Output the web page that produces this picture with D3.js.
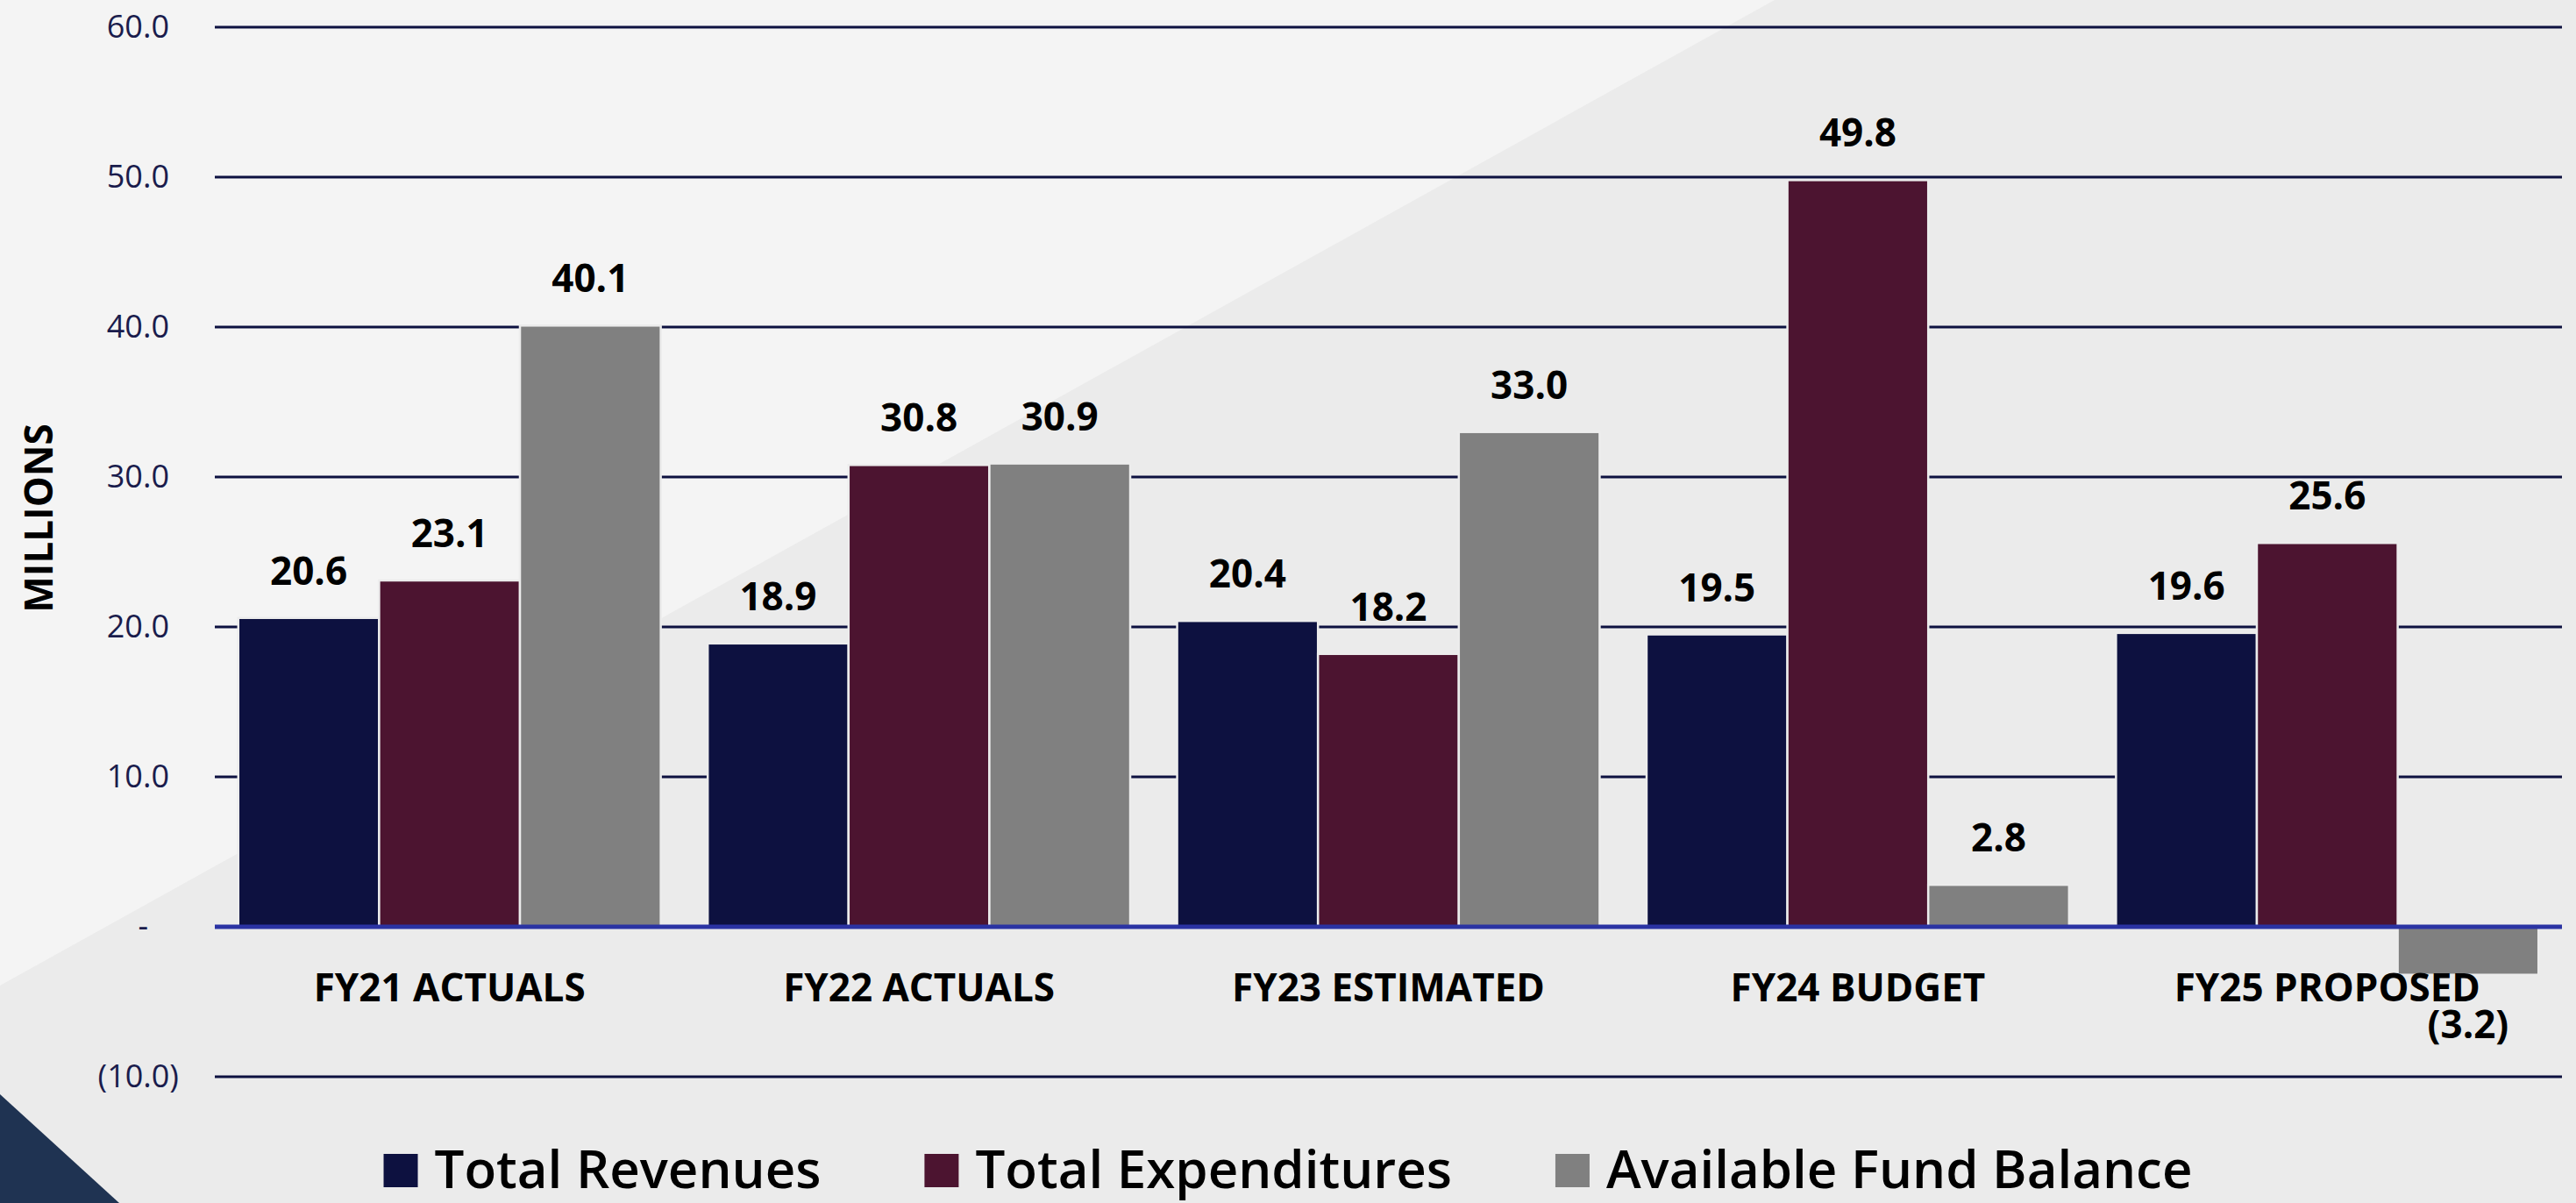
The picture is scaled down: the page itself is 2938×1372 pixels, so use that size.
<!DOCTYPE html>
<html lang="en">
  <head>
    <meta charset="utf-8">
    <script src="https://d3js.org/d3.v7.min.js"></script>
    <style>
      body { margin: 0; background: #ececec; }
      svg { display: block; }
    </style>
  </head>
  <body>
    <svg id="chart"></svg>

    <script type="text/javascript">

     // chart data
     var categories = ["FY21 ACTUALS", "FY22 ACTUALS", "FY23 ESTIMATED", "FY24 BUDGET", "FY25 PROPOSED"];
     var seriesNames = ["Total Revenues", "Total Expenditures", "Available Fund Balance"];
     var revenues = [20.6, 18.9, 20.4, 19.5, 19.6];
     var expenditures = [23.1, 30.8, 18.2, 49.8, 25.6];
     var fundBalance = [40.1, 30.9, 33.0, 2.8, -3.2];
     var yTicks = [-10, 0, 10, 20, 30, 40, 50, 60];
     var colors = ["#0d1140", "#4c1430", "#808080"];

     var width = 2938;
     var height = 1372;

     var svg = d3.select("#chart")
       .attr("width", width)
       .attr("height", height);

     // background with the diagonal split and the corner triangle
     svg.append("rect")
       .attr("width", width)
       .attr("height", height)
       .attr("fill", "#ebebeb");
     svg.append("path")
       .attr("d", "M0,0 L2024,0 L0,1124 Z")
       .attr("fill", "#f4f4f4");
     svg.append("path")
       .attr("d", "M0,1248 L136,1372 L0,1372 Z")
       .attr("fill", "#1f3352");

     var data = categories.map(function(c, i) {
       return {cat: c, values: [revenues[i], expenditures[i], fundBalance[i]]};
     });

     var left = 245, right = 2922;

     var x0 = d3.scaleBand()
       .domain(categories)
       .range([left, right])
       .paddingInner(0.1)
       .paddingOuter(0.05);

     var x1 = d3.scaleBand()
       .domain(d3.range(seriesNames.length))
       .range([0, x0.bandwidth()]);

     var y = d3.scaleLinear()
       .domain([-10, 60])
       .range([1228, 31]);

     // gridlines + tick labels
     var yAxis = d3.axisLeft(y)
       .tickValues(yTicks)
       .tickSize(0)
       .tickPadding(52)
       .tickFormat(function(d) {
         if (d == 0) return "-";
         if (d < 0) return "(" + d3.format(".1f")(-d) + ")";
         return d3.format(".1f")(d);
       });

     var gAxis = svg.append("g")
       .attr("transform", "translate(" + left + ",0)")
       .call(yAxis);
     gAxis.select(".domain").remove();
     gAxis.selectAll("text")
       .attr("font-family", "Open Sans")
       .attr("font-size", 36)
       .attr("fill", "#1a1c4c")
       .attr("dx", function(d) {
         if (d < 0) return 11;
         if (d == 0) return -24;
         return 0;
       });

     svg.append("g")
       .selectAll("line")
       .data(yTicks.filter(function(d) { return d != 0; }))
       .enter()
       .append("line")
       .attr("x1", left)
       .attr("x2", right)
       .attr("y1", function(d) { return y(d); })
       .attr("y2", function(d) { return y(d); })
       .attr("stroke", "#0d1140")
       .attr("stroke-width", 3);

     // bars
     var groups = svg.append("g")
       .selectAll("g")
       .data(data)
       .enter()
       .append("g")
       .attr("transform", function(d) { return "translate(" + x0(d.cat) + ",0)"; });

     groups.selectAll("rect")
       .data(function(d) { return d.values; })
       .enter()
       .append("rect")
       .attr("x", function(d, i) { return x1(i); })
       .attr("y", function(d) { return y(Math.max(0, d)); })
       .attr("width", x1.bandwidth())
       .attr("height", function(d) { return Math.abs(y(d) - y(0)); })
       .attr("fill", function(d, i) { return colors[i]; })
       .attr("stroke", "#ececec")
       .attr("stroke-width", 2.5);

     groups.selectAll("text")
       .data(function(d) { return d.values; })
       .enter()
       .append("text")
       .attr("x", function(d, i) { return x1(i) + x1.bandwidth() / 2; })
       .attr("y", function(d) { return d >= 0 ? y(d) - 38 : y(d) + 72; })
       .attr("text-anchor", "middle")
       .attr("font-family", "Open Sans")
       .attr("font-weight", "bold")
       .attr("font-size", 44)
       .attr("fill", "#000")
       .text(function(d) {
         return d < 0 ? "(" + d3.format(".1f")(-d) + ")" : d3.format(".1f")(d);
       });

     // zero line
     svg.append("line")
       .attr("x1", left)
       .attr("x2", right)
       .attr("y1", y(0))
       .attr("y2", y(0))
       .attr("stroke", "#2a33a3")
       .attr("stroke-width", 5);

     // category labels
     svg.append("g")
       .selectAll("text")
       .data(categories)
       .enter()
       .append("text")
       .attr("x", function(d) { return x0(d) + x0.bandwidth() / 2; })
       .attr("y", 1142)
       .attr("text-anchor", "middle")
       .attr("font-family", "Open Sans")
       .attr("font-weight", "bold")
       .attr("font-size", 44)
       .attr("fill", "#000")
       .text(function(d) { return d; });

     // axis title
     svg.append("text")
       .attr("transform", "translate(60,591) rotate(-90)")
       .attr("text-anchor", "middle")
       .attr("font-family", "Open Sans")
       .attr("font-weight", "bold")
       .attr("font-size", 44)
       .attr("fill", "#000")
       .text("MILLIONS");

     // legend
     var legend = svg.append("g");
     var lx = 0;
     seriesNames.forEach(function(name, i) {
       legend.append("rect")
         .attr("x", lx)
         .attr("y", 1316)
         .attr("width", 39)
         .attr("height", 38)
         .attr("fill", colors[i]);
       var t = legend.append("text")
         .attr("x", lx + 58)
         .attr("y", 1355)
         .attr("font-family", "Open Sans")
         .attr("font-weight", 600)
         .attr("font-size", 60)
         .attr("fill", "#000")
         .text(name);
       lx += 58 + t.node().getComputedTextLength() + 118;
     });
     var legendWidth = lx - 118;
     legend.attr("transform", "translate(" + (width / 2 - legendWidth / 2) + ",0)");

    </script>
  </body>
</html>
